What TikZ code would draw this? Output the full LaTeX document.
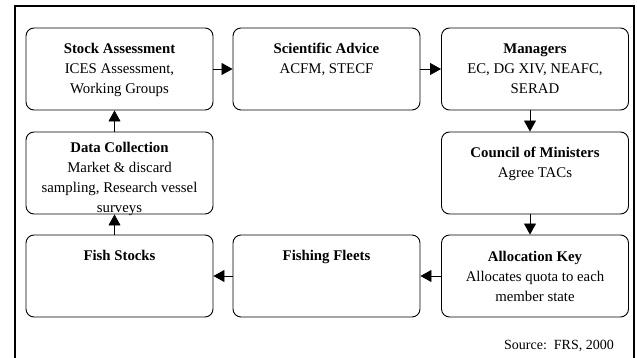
\documentclass[tikz,border=0pt]{standalone}
\usepackage{fontspec}
\setmainfont{Liberation Serif}
\usetikzlibrary{arrows.meta}
\tikzset{
  stage/.style={
    draw=black,
    line width=0.9pt,
    rounded corners=8pt,
    minimum width=187pt,
    minimum height=82pt,
    inner sep=0pt,
    font=\fontsize{14.8}{20}\selectfont
  },
  flow/.style={line width=0.8pt, -{Triangle[length=11pt,width=12pt]}},
  frame/.style={line width=2pt},
  source/.style={font=\fontsize{14}{16}\selectfont, inner sep=0pt}
}
% title in bold, then the lines below it, set from the top of the box
\newcommand{\stagetext}[3][26pt]{%
  \parbox[c][82pt][t]{186pt}{\centering\rule{0pt}{#1}\textbf{#2}\\#3}}

\begin{document}
\begin{tikzpicture}[x=1pt,y=-1pt]
  \useasboundingbox (0,0) rectangle (637,358);
  % Outer frame
  \draw[frame] (15,358) -- (15,6) -- (633.5,6) -- (633.5,358);
  % Top row
  \node[stage] (stock) at (119.5,69) {\stagetext{Stock Assessment}{ICES Assessment,\\Working Groups}};
  \node[stage] (advice) at (326.5,69) {\stagetext{Scientific Advice}{ACFM, STECF}};
  \node[stage] (managers) at (535,69) {\stagetext{Managers}{EC, DG XIV, NEAFC,\\SERAD}};
  % Middle row
  \node[stage] (data) at (119.5,173) {\stagetext[21pt]{Data Collection}{Market \& discard\\sampling, Research vessel\\surveys}};
  \node[stage] (council) at (535,173) {\stagetext{Council of Ministers}{Agree TACs}};
  % Bottom row
  \node[stage] (fish) at (119.5,276) {\stagetext[25pt]{Fish Stocks}{}};
  \node[stage] (fleets) at (326.5,276) {\stagetext[25pt]{Fishing Fleets}{}};
  \node[stage] (alloc) at (535,276) {\stagetext{Allocation Key}{Allocates quota to each\\member state}};
  % Management cycle
  \draw[flow] (stock) -- (advice);
  \draw[flow] (advice) -- (managers);
  \draw[flow] ([xshift=-5pt]managers.south) -- ([xshift=-5pt]council.north);
  \draw[flow] ([xshift=-5pt]council.south) -- ([xshift=-5pt]alloc.north);
  \draw[flow] (alloc) -- (fleets);
  \draw[flow] (fleets) -- (fish);
  \draw[flow] ([xshift=-5pt]fish.north) -- ([xshift=-5pt]data.south);
  \draw[flow] ([xshift=-5pt]data.north) -- ([xshift=-5pt]stock.south);
  % Source note
  \node[source, anchor=base east] (note) at (614,349) {Source:\ \ FRS, 2000};
\end{tikzpicture}
\end{document}
